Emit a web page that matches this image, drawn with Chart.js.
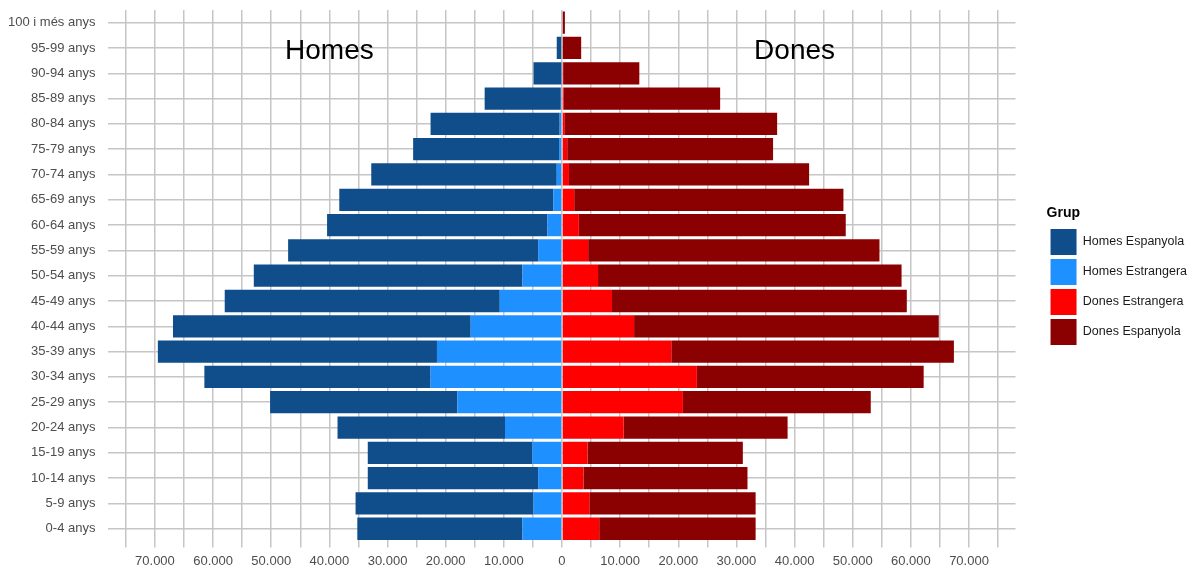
<!DOCTYPE html>
<html>
<head>
<meta charset="utf-8">
<script src="https://cdn.jsdelivr.net/npm/chart.js@4"></script>
<style>
  html, body { margin: 0; padding: 0; background: #ffffff; }
  #chartBox { width: 1192px; height: 567px; position: relative; }
</style>
</head>
<body>
<div id="chartBox"><canvas id="myChart"></canvas></div>
<script>
// age groups, top of the pyramid first
const ageLabels = [
  "100 i més anys", "95-99 anys", "90-94 anys", "85-89 anys", "80-84 anys",
  "75-79 anys", "70-74 anys", "65-69 anys", "60-64 anys", "55-59 anys",
  "50-54 anys", "45-49 anys", "40-44 anys", "35-39 anys", "30-34 anys",
  "25-29 anys", "20-24 anys", "15-19 anys", "10-14 anys", "5-9 anys", "0-4 anys",
];

// men are negative so they go to the left
const homesEspanyola = [
  0, -900, -4800, -13100, -22200, -25100, -31900, -36800, -37900, -43000,
  -46200, -47300, -51200, -48000, -38900, -32200, -28800, -28300, -29300, -30600, -28400,
];
const homesEstrangera = [
  0, 0, -100, -200, -400, -500, -900, -1500, -2500, -4100,
  -6800, -10700, -15700, -21500, -22600, -18000, -9800, -5100, -4100, -4900, -6800,
];
const donesEstrangera = [
  0, 0, 200, 300, 500, 900, 1200, 2100, 2900, 4500,
  6200, 8600, 12400, 18800, 23200, 20800, 10600, 4400, 3700, 4700, 6400,
];
const donesEspanyola = [
  500, 3300, 13100, 26900, 36500, 35400, 41300, 46300, 45900, 50100,
  52200, 50700, 52400, 48600, 39000, 32300, 28200, 26700, 28200, 28600, 26900,
];

// grid every 5.000, labels only every 10.000
const xGridValues = [
  -75000, -70000, -65000, -60000, -55000, -50000, -45000, -40000, -35000, -30000, -25000,
  -20000, -15000, -10000, -5000, 0, 5000, 10000, 15000, 20000, 25000, 30000, 35000,
  40000, 45000, 50000, 55000, 60000, 65000, 70000, 75000,
];

const legendOrder = ["Homes Espanyola", "Homes Estrangera", "Dones Estrangera", "Dones Espanyola"];
const FONT = "'Liberation Sans', Arial, sans-serif";
const GRID = "#c6c6c6";

const canvas = document.getElementById("myChart");
const ctx = canvas.getContext("2d");

function formatThousands(v) {
  let n = Math.abs(v);
  return n.toString().replace(/\B(?=(\d{3})+(?!\d))/g, ".");
}

// big "Homes" / "Dones" titles placed with the scales
const sideTitles = {
  id: "sideTitles",
  afterLayout(chart) {
    // leave a gap between the plot and the legend, like the original
    chart.legend.left += 31;
    chart.legend.right += 31;
    chart.legend.top -= 15;
    chart.legend.bottom -= 15;
  },
  afterDatasetsDraw(chart) {
    const x = chart.scales.x;
    const y = chart.scales.y;
    const c = chart.ctx;
    c.save();
    c.font = "28px " + FONT;
    c.fillStyle = "#000000";
    c.textAlign = "center";
    c.textBaseline = "middle";
    c.fillText("Homes", x.getPixelForValue(-40000), y.getPixelForValue(1) + 3);
    c.fillText("Dones", x.getPixelForValue(40000), y.getPixelForValue(1) + 3);
    c.restore();
  },
};

const chartInstance = new Chart(ctx, {
  type: "bar",
  data: {
    labels: ageLabels,
    // stacking order: foreign part next to zero, spanish part outside
    datasets: [
      { label: "Homes Estrangera", data: homesEstrangera, backgroundColor: "#1E90FF" },
      { label: "Dones Estrangera", data: donesEstrangera, backgroundColor: "#FF0000" },
      { label: "Homes Espanyola", data: homesEspanyola, backgroundColor: "#104E8B" },
      { label: "Dones Espanyola", data: donesEspanyola, backgroundColor: "#8B0000" },
    ],
  },
  plugins: [sideTitles],
  options: {
    indexAxis: "y",
    responsive: true,
    maintainAspectRatio: false,
    animation: false,
    datasets: {
      bar: { barPercentage: 0.88, categoryPercentage: 1.0 },
    },
    layout: { padding: { left: 8, right: 26, top: 10, bottom: -8 } },
    scales: {
      x: {
        stacked: true,
        min: -78000,
        max: 78000,
        border: { display: false },
        afterBuildTicks: (scale) => {
          scale.ticks = xGridValues.map((v) => ({ value: v }));
        },
        grid: {
          color: GRID,
          lineWidth: 1.5,
          tickLength: 6,
        },
        ticks: {
          autoSkip: false,
          maxRotation: 0,
          padding: 6,
          color: "#4d4d4d",
          font: { family: FONT, size: 13 },
          callback: (v) => (v % 10000 === 0 ? formatThousands(v) : ""),
        },
      },
      y: {
        stacked: true,
        border: { display: false },
        grid: {
          color: GRID,
          lineWidth: 1.5,
          offset: false,
          tickLength: 13,
          tickColor: "rgba(0,0,0,0)",
        },
        ticks: {
          padding: 0,
          color: "#4d4d4d",
          font: { family: FONT, size: 13 },
        },
      },
    },
    plugins: {
      tooltip: { enabled: false },
      legend: {
        position: "right",
        align: "center",
        title: {
          display: true,
          text: "Grup",
          position: "start",
          color: "#000000",
          font: { family: FONT, size: 14, weight: "bold" },
          padding: { top: 0, bottom: 2 },
        },
        labels: {
          boxWidth: 26,
          boxHeight: 26,
          padding: 4,
          color: "#1a1a1a",
          font: { family: FONT, size: 12.5 },
          sort: (a, b) => legendOrder.indexOf(a.text) - legendOrder.indexOf(b.text),
        },
      },
    },
  },
});
</script>
</body>
</html>
